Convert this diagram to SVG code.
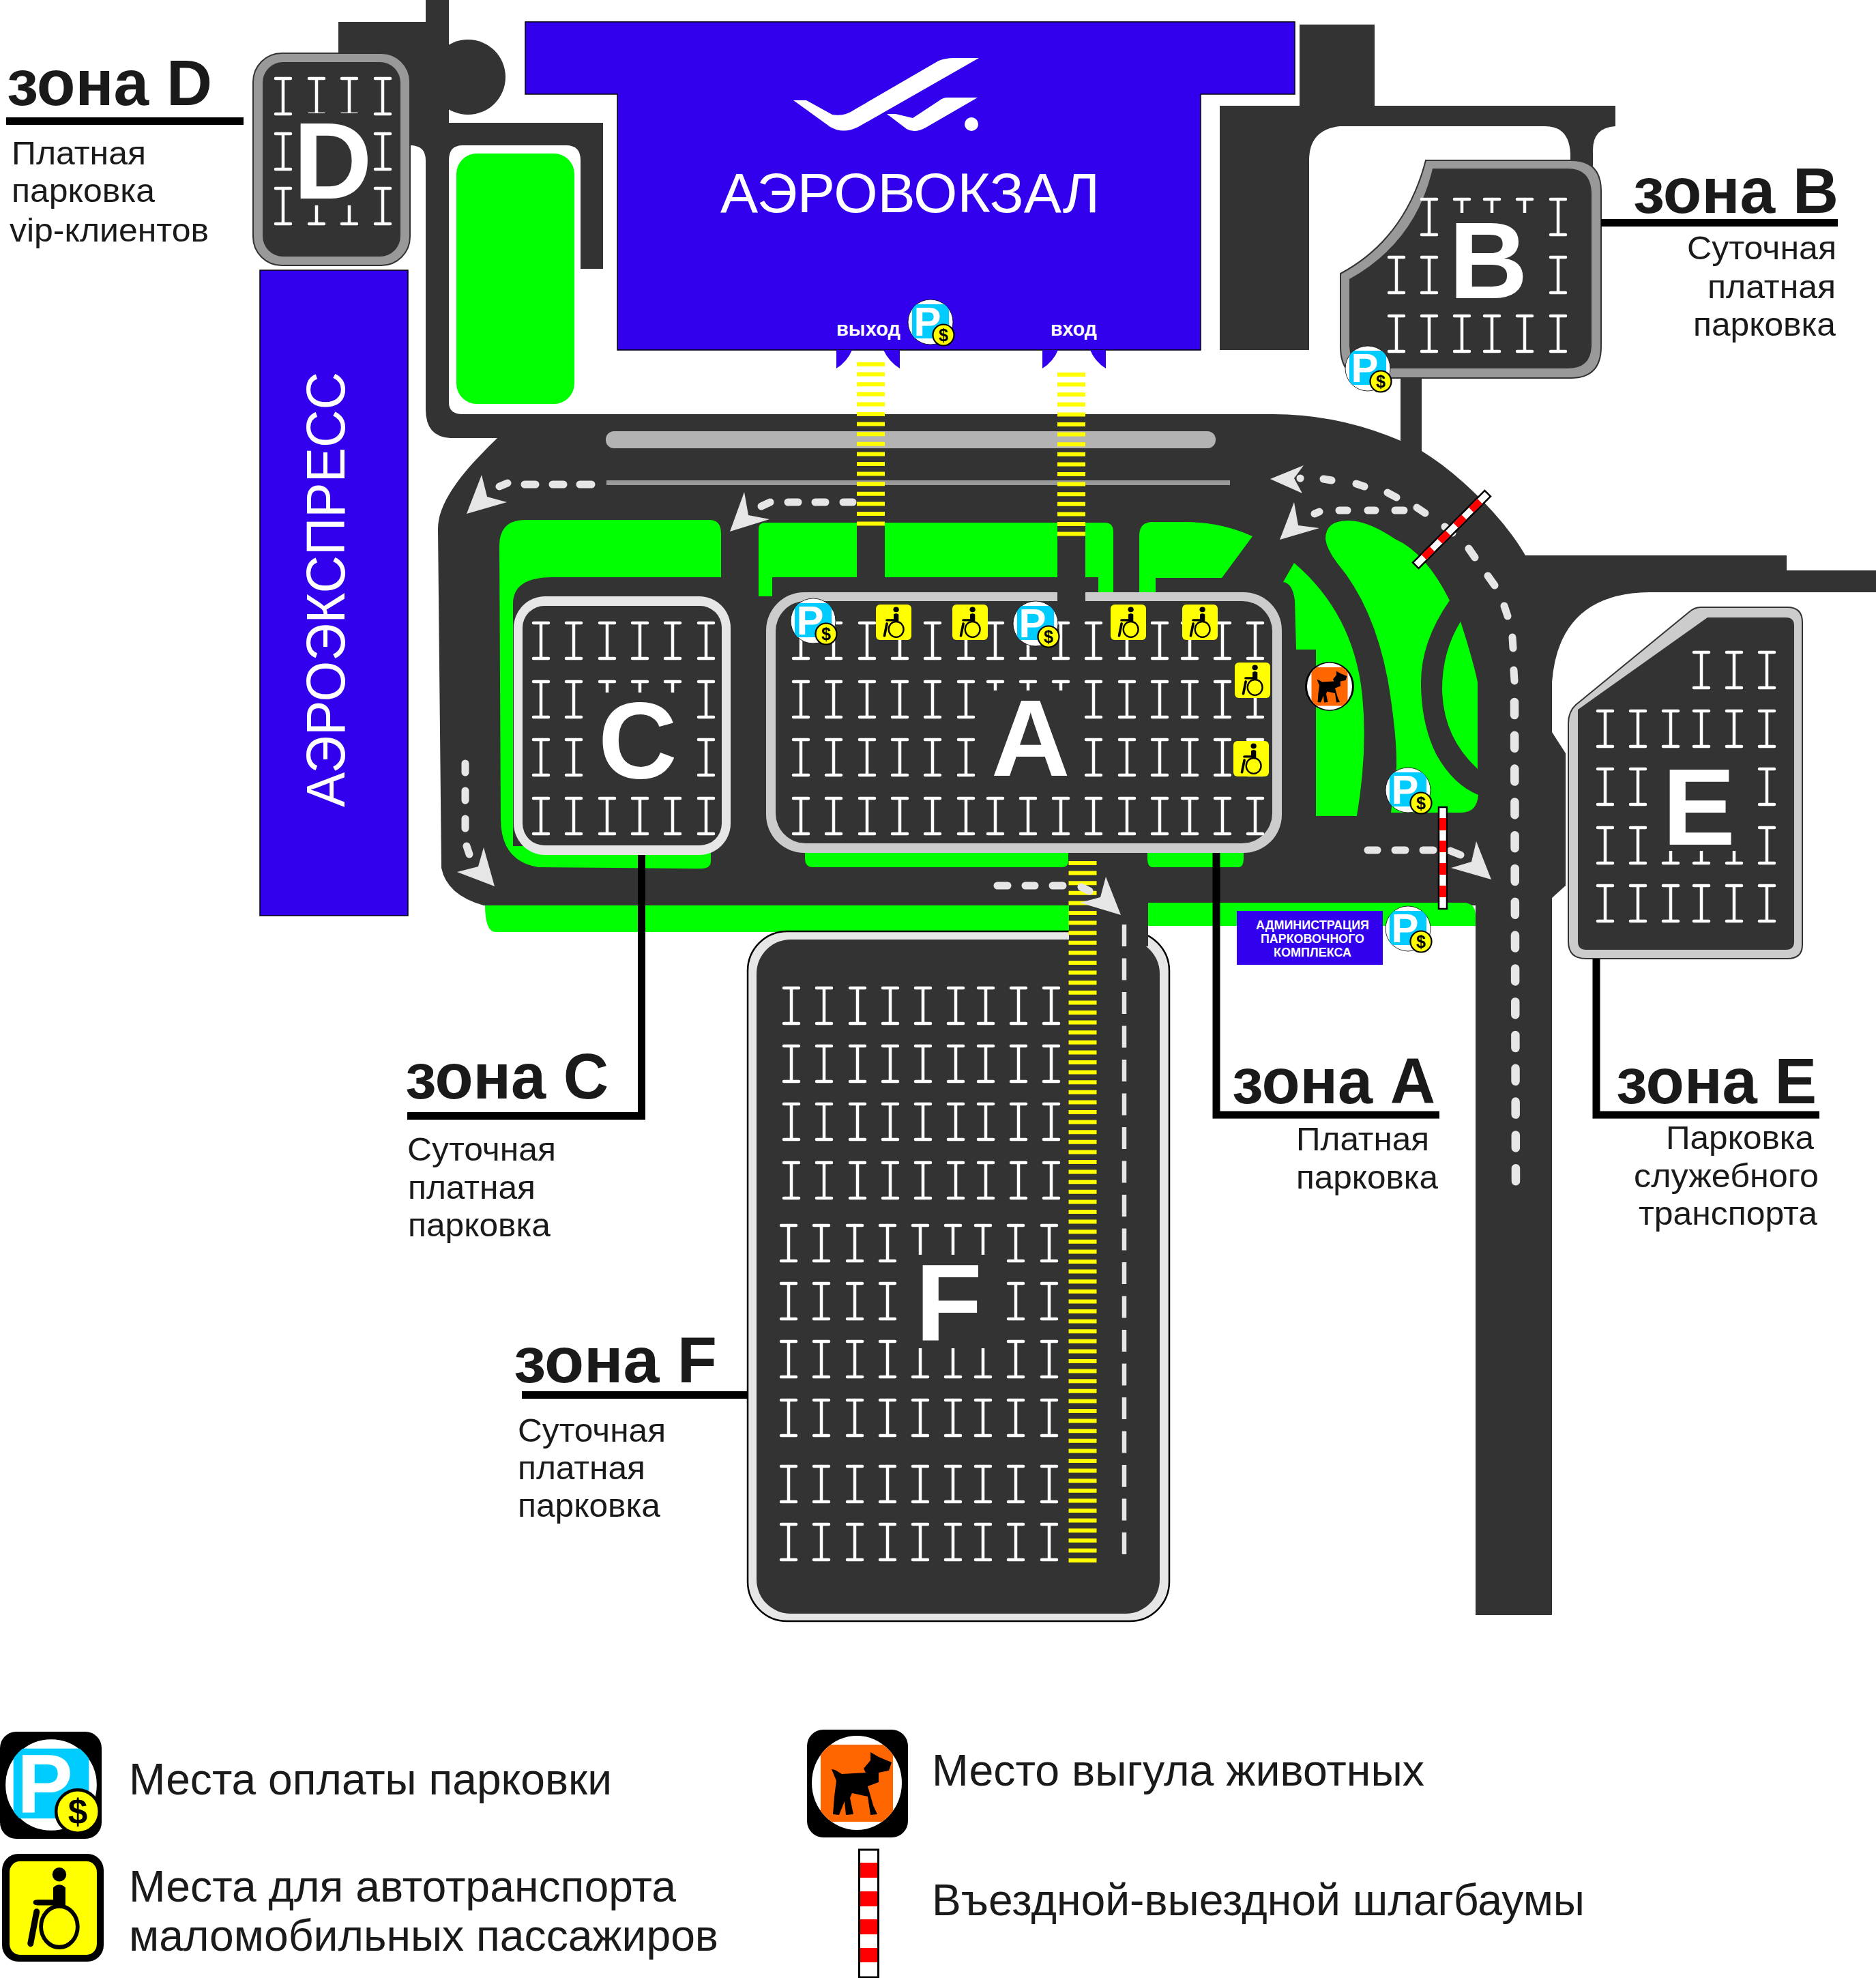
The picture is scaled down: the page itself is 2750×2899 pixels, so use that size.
<svg xmlns="http://www.w3.org/2000/svg" width="2750" height="2899" viewBox="0 0 2750 2899">
<style>
text{font-family:"Liberation Sans",Arial,sans-serif;fill:#1a1a1a}
.t{font-weight:bold;font-size:94px}
.s{font-size:48px}
.l{font-size:64px}
.w{fill:#fff}
.b{font-weight:bold}
.road{fill:#333}
.green{fill:#0f0}
.blue{fill:#30e;stroke:#000;stroke-width:1.5}
.dash{fill:none;stroke:#e6e6e6;stroke-width:11;stroke-linecap:round}
.arrow{fill:#e6e6e6}
.lead{fill:none;stroke:#000;stroke-width:11}
.zebra{stroke:#ff0;stroke-width:41;stroke-dasharray:6 8.6;fill:none}
.mark{fill:none;stroke:#fff;stroke-width:4.5;stroke-linecap:round}
</style>
<defs>
<path id="I" class="mark" d="M-11,2H11M0,2V54M-11,54H11"/>
<g id="rA"><use href="#I" x="1174"/><use href="#I" x="1222"/><use href="#I" x="1271"/><use href="#I" x="1319"/><use href="#I" x="1367"/><use href="#I" x="1416"/><use href="#I" x="1459"/><use href="#I" x="1507"/><use href="#I" x="1555"/><use href="#I" x="1603"/><use href="#I" x="1652"/><use href="#I" x="1700"/><use href="#I" x="1744"/><use href="#I" x="1792"/><use href="#I" x="1840"/></g>
<g id="rC"><use href="#I" x="793"/><use href="#I" x="841"/><use href="#I" x="890"/><use href="#I" x="938"/><use href="#I" x="986"/><use href="#I" x="1035"/></g>
<g id="rF1"><use href="#I" x="1160"/><use href="#I" x="1208"/><use href="#I" x="1257"/><use href="#I" x="1305"/><use href="#I" x="1353"/><use href="#I" x="1401"/><use href="#I" x="1445"/><use href="#I" x="1493"/><use href="#I" x="1541"/></g>
<g id="rF2"><use href="#I" x="1156"/><use href="#I" x="1204"/><use href="#I" x="1253"/><use href="#I" x="1301"/><use href="#I" x="1349"/><use href="#I" x="1397"/><use href="#I" x="1441"/><use href="#I" x="1489"/><use href="#I" x="1538"/></g>
<clipPath id="payClip"><circle r="33"/></clipPath>
<g id="pay">
<circle r="33" fill="#fff" stroke="#000" stroke-width=".8"/>
<rect x="-27" y="-26" width="54" height="50" fill="#0cf" clip-path="url(#payClip)"/>
<text x="-24.5" y="20" font-size="60" font-weight="bold" style="fill:#fff">P</text>
<circle cx="19" cy="19" r="15.5" fill="#ff0" stroke="#000" stroke-width="2.2"/>
<text x="19" y="28" font-size="25" font-weight="bold" text-anchor="middle" style="fill:#000">$</text>
</g>
<g id="wheel">
<rect x="-26" y="-26" width="52" height="52" rx="6" fill="#ff0"/>
<g transform="scale(.52) translate(-50,-50)">
<ellipse cx="57" cy="14" rx="8" ry="7.5" fill="#000"/>
<path d="M50,28Q57,22 64,28V47H32Q27,47 27,44Q27,41 32,41H50Z" fill="#000"/>
<ellipse cx="57" cy="70" rx="21" ry="22" fill="none" stroke="#000" stroke-width="4.5"/>
<path d="M31,54L24,88" fill="none" stroke="#000" stroke-width="7" stroke-linecap="round"/>
</g>
</g>
<clipPath id="dogClip"><ellipse rx="66" ry="69"/></clipPath>
<g id="dog">
<ellipse rx="66" ry="69" fill="#fff"/>
<rect x="-53" y="-56" width="106" height="113" fill="#f60" clip-path="url(#dogClip)"/>
<path d="M20,-45L32,-38L51,-30L47,-18L32,-15L32,-1L16,5L24,33L30,46L20,47L16,20L-7,15L-10,22L-5,46L-16,47L-18,27L-26,47L-35,46L-33,20L-30,-3L-37,-20L-32,-19L-22,-13L13,-15L10,-21L20,-33Z" fill="#000"/>
</g>
<g id="barrier">
<rect x="-6" y="-74.5" width="12" height="149" fill="#fff" stroke="#000" stroke-width="2.5"/>
<path d="M-5,-58.5h10v18h-10zM-5,-25.5h10v17h-10zM-5,7.5h10v17h-10zM-5,40.5h10v17h-10z" fill="#f00"/>
</g>
</defs>

<g id="roads">
<path class="road" d="M496,32H624V0H658V180H884V394H851V235Q851,213 830,213H678Q658,213 658,235V590Q658,607 678,607H1861Q1960,606 2053,646L2084,661C2140,695 2205,760 2236,814H2619V836H2750V868H2417Q2285,870 2275,1000V1073L2295,1104V1298L2275,1316V2367H2163V1327H709Q655,1312 647,1272L642,775C642,730 690,680 729,642H660Q624,640 624,600V235Q624,213 601,213H560V78H496Z"/>
<circle class="road" cx="686" cy="113" r="55"/>
<path class="road" d="M1905,36H2015V155H2368V185Q2335,187 2335,220V250H2302V225Q2300,185 2265,185H1964Q1919,190 1919,235V513H1788V155H1905Z"/>
<rect class="road" x="2053" y="540" width="31" height="125"/>
</g>

<g id="lawns">
<rect class="green" x="669" y="225" width="173" height="367" rx="30"/>
<path class="green" d="M732,800Q732,762 770,762H1040Q1057,762 1057,782V846H810Q752,846 752,885V1240H1042V1262Q1042,1273 1028,1273L789,1271Q734,1262 734,1200Z"/>
<path class="green" d="M1112,775Q1112,766 1122,766H1620Q1632,766 1632,780V868H1610V846H1132V874H1112Z"/>
<path class="green" d="M1670,785Q1670,765 1690,765H1737Q1790,765 1836,786L1791,847H1694V869H1670Z"/>
<path class="green" d="M1897,825L1881,853Q1895,855 1898,880L1900,952H1929V1196H1989Q2005,1100 1997,1020Q1985,900 1897,825Z"/>
<path class="green" d="M1976,763Q1943,763 1943,790Q1945,805 1960,825Q2015,890 2035,1000Q2048,1080 2047,1124L2039,1191H2142Q2165,1191 2167,1165Q2130,1150 2105,1105Q2083,1060 2083,1000Q2083,940 2125,880Q2090,810 2045,790Q2005,763 1976,763Z"/>
<path class="green" d="M2141,911Q2114,955 2114,1010Q2115,1080 2166,1127V1000Q2160,970 2141,911Z"/>
<path class="green" d="M1180,1245H1566V1262Q1566,1271 1556,1271H1192Q1180,1271 1180,1258Z"/>
<path class="green" d="M1682,1245H1823V1258Q1823,1271 1815,1271H1690Q1682,1271 1682,1258Z"/>
<path class="green" d="M711,1327H1567V1366H727Q711,1366 711,1327Z"/>
<path class="green" d="M1683,1323H2145Q2163,1323 2163,1342V1357H1683Z"/>
<rect class="road" x="1256" y="766" width="41" height="102"/>
<rect class="road" x="1550" y="766" width="41" height="102"/>
<rect x="888" y="632" width="894" height="25" rx="12" fill="#b3b3b3"/>
<rect x="889" y="704" width="914" height="7" fill="#999"/>
</g>

<g id="terminal">
<path class="blue" d="M770,32H1898V138H1760V513H905V138H770Z"/>
<path fill="#30e" d="M1226,513H1249Q1242,530 1226,540ZM1295,513H1319V540Q1303,530 1295,513ZM1528,513H1551Q1544,530 1528,540ZM1598,513H1621V540Q1605,530 1598,513Z"/>
<path fill="#fff" d="M1163,147H1182L1220,168Q1238,171 1252,161L1376,89Q1386,85 1399,85H1435L1258,186Q1236,197 1217,186Z"/>
<path fill="#fff" d="M1300,167H1313L1338,173L1376,148Q1382,143 1389,143H1433L1357,187Q1341,196 1329,189Z"/>
<circle cx="1424" cy="182" r="10" fill="#fff"/>
<text class="w" x="1056" y="311" font-size="82" textLength="556" lengthAdjust="spacingAndGlyphs" style="fill:#fff">АЭРОВОКЗАЛ</text>
<text x="1226" y="492" font-size="30" font-weight="bold" textLength="94" lengthAdjust="spacingAndGlyphs" style="fill:#fff">выход</text>
<text x="1540" y="492" font-size="30" font-weight="bold" textLength="68" lengthAdjust="spacingAndGlyphs" style="fill:#fff">вход</text>
<use href="#pay" x="1364" y="472"/>
</g>

<g id="aeroexpress">
<rect class="blue" x="381" y="396" width="217" height="946"/>
<text transform="translate(505,1183) rotate(-90)" font-size="80" textLength="638" lengthAdjust="spacingAndGlyphs" style="fill:#fff">АЭРОЭКСПРЕСС</text>
</g>

<g id="zone-d">
<rect x="371" y="78" width="230" height="311" rx="42" fill="#999" stroke="#333" stroke-width="2"/>
<rect x="385" y="91" width="202" height="285" rx="30" fill="#333"/>
<use href="#I" x="415" y="113"/><use href="#I" x="464" y="113"/><use href="#I" x="512" y="113"/><use href="#I" x="561" y="113"/>
<use href="#I" x="415" y="194"/><use href="#I" x="561" y="194"/>
<use href="#I" x="415" y="274"/><use href="#I" x="464" y="274"/><use href="#I" x="512" y="274"/><use href="#I" x="561" y="274"/>
<rect x="440" y="166" width="100" height="135" fill="#333"/>
<text x="430" y="291" font-size="160" font-weight="bold" style="fill:#fff">D</text>
</g>

<g id="zone-b">
<path d="M2090,235H2303Q2347,235 2347,280V508Q2347,554 2303,554H2006Q1965,554 1965,508V401Q2060,350 2090,235Z" fill="#999" stroke="#333" stroke-width="2"/>
<path d="M2100,247H2298Q2333,247 2333,285V505Q2333,540 2298,540H2010Q1978,540 1978,505V409Q2075,355 2100,247Z" fill="#333"/>
<use href="#I" x="2095" y="290"/><use href="#I" x="2143" y="290"/><use href="#I" x="2187" y="290"/><use href="#I" x="2235" y="290"/><use href="#I" x="2284" y="290"/>
<use href="#I" x="2047" y="375"/><use href="#I" x="2095" y="375"/><use href="#I" x="2284" y="375"/>
<use href="#I" x="2047" y="461"/><use href="#I" x="2095" y="461"/><use href="#I" x="2143" y="461"/><use href="#I" x="2187" y="461"/><use href="#I" x="2235" y="461"/><use href="#I" x="2284" y="461"/>
<rect x="2125" y="312" width="130" height="125" fill="#333"/>
<text x="2124" y="437" font-size="160" font-weight="bold" style="fill:#fff">B</text>
<use href="#pay" x="2005" y="540"/>
</g>

<g id="zone-c">
<rect x="753" y="874" width="318" height="379" rx="46" fill="#e6e6e6"/>
<rect x="766" y="888" width="292" height="351" rx="32" fill="#333"/>
<use href="#rC" y="911"/><use href="#rC" y="997"/><use href="#rC" y="1082"/><use href="#rC" y="1168"/>
<rect x="872" y="1015" width="132" height="130" fill="#333"/>
<text x="877" y="1140" font-size="160" font-weight="bold" style="fill:#fff">C</text>
</g>

<g id="zone-a">
<rect x="1123" y="868" width="756" height="382" rx="56" fill="#ccc"/>
<rect x="1137" y="881" width="728" height="355" rx="44" fill="#333"/>
<rect class="road" x="1550" y="866" width="41" height="18"/>
<use href="#rA" y="911"/><use href="#rA" y="997"/><use href="#rA" y="1082"/><use href="#rA" y="1168"/>
<rect x="1440" y="1012" width="136" height="135" fill="#333"/>
<text x="1453" y="1137" font-size="160" font-weight="bold" style="fill:#fff">A</text>
<use href="#pay" x="1192" y="910"/><use href="#pay" x="1518" y="914"/>
<use href="#wheel" x="1310" y="912"/><use href="#wheel" x="1422" y="912"/><use href="#wheel" x="1654" y="912"/><use href="#wheel" x="1759" y="912"/><use href="#wheel" x="1836" y="997"/><use href="#wheel" x="1834" y="1112"/>
</g>

<g id="zone-f">
<rect x="1096" y="1365" width="618" height="1011" rx="58" fill="#e6e6e6" stroke="#000" stroke-width="2.5"/>
<rect x="1109" y="1377" width="591" height="988" rx="50" fill="#333"/>
<rect class="road" x="1567" y="1327" width="116" height="60"/>
<use href="#rF1" y="1446"/><use href="#rF1" y="1531"/><use href="#rF1" y="1616"/><use href="#rF1" y="1702"/>
<use href="#rF2" y="1794"/><use href="#rF2" y="1879"/><use href="#rF2" y="1964"/><use href="#rF2" y="2050"/><use href="#rF2" y="2147"/><use href="#rF2" y="2232"/>
<rect x="1330" y="1839" width="128" height="137" fill="#333"/>
<text x="1342" y="1964" font-size="160" font-weight="bold" style="fill:#fff">F</text>
</g>

<g id="zone-e">
<path d="M2493,890H2620Q2642,890 2642,912V1385Q2642,1405 2620,1405H2325Q2299,1405 2299,1380V1060Q2299,1043 2310,1033L2476,897Q2484,890 2493,890Z" fill="#ccc" stroke="#333" stroke-width="2"/>
<path d="M2503,905H2618Q2630,905 2630,917V1380Q2630,1392 2618,1392H2325Q2313,1392 2313,1380V1040Z" fill="#333"/>
<use href="#I" x="2494" y="954"/><use href="#I" x="2542" y="954"/><use href="#I" x="2590" y="954"/>
<use href="#I" x="2353" y="1040"/><use href="#I" x="2401" y="1040"/><use href="#I" x="2449" y="1040"/><use href="#I" x="2494" y="1040"/><use href="#I" x="2542" y="1040"/><use href="#I" x="2590" y="1040"/>
<use href="#I" x="2353" y="1125"/><use href="#I" x="2401" y="1125"/><use href="#I" x="2590" y="1125"/>
<use href="#I" x="2353" y="1211"/><use href="#I" x="2401" y="1211"/><use href="#I" x="2449" y="1211"/><use href="#I" x="2494" y="1211"/><use href="#I" x="2542" y="1211"/><use href="#I" x="2590" y="1211"/>
<use href="#I" x="2353" y="1296"/><use href="#I" x="2401" y="1296"/><use href="#I" x="2449" y="1296"/><use href="#I" x="2494" y="1296"/><use href="#I" x="2542" y="1296"/><use href="#I" x="2590" y="1296"/>
<rect x="2430" y="1110" width="130" height="137" fill="#333"/>
<text x="2437" y="1238" font-size="160" font-weight="bold" style="fill:#fff">E</text>
</g>

<g id="admin">
<rect x="1813" y="1335" width="214" height="79" fill="#30e"/>
<g font-size="19" font-weight="bold" text-anchor="middle">
<text x="1924" y="1362" textLength="166" lengthAdjust="spacingAndGlyphs" style="fill:#fff">АДМИНИСТРАЦИЯ</text>
<text x="1924" y="1382" textLength="152" lengthAdjust="spacingAndGlyphs" style="fill:#fff">ПАРКОВОЧНОГО</text>
<text x="1924" y="1402" textLength="114" lengthAdjust="spacingAndGlyphs" style="fill:#fff">КОМПЛЕКСА</text>
</g>
<use href="#pay" x="2064" y="1361"/>
</g>
<use id="pay-lawn" href="#pay" x="2064" y="1158"/>
<g id="dog-walk">
<circle cx="1949" cy="1006" r="36" fill="#000"/>
<use href="#dog" transform="translate(1949,1006) scale(.5)"/>
</g>

<g id="connectors">
<path class="zebra" d="M1276.5,531V775"/>
<path class="zebra" d="M1570.5,546V787"/>
<path class="zebra" d="M1587,1262V2290"/>
<path d="M1648,1355V2290" fill="none" stroke="#e6e6e6" stroke-width="6.5" stroke-dasharray="32 17.5"/>
<path class="dash" d="M850,710H867M810,710H826M769,710H785M732,713L744,708"/>
<polygon class="arrow" points="684,753 706,696 714,728 743,736"/>
<path class="dash" d="M1236,736H1250M1195,736H1210M1155,736H1170M1116,742L1129,736"/>
<polygon class="arrow" points="1070,779 1091,721 1097,755 1128,761"/>
<path class="dash" d="M682,1119V1132M682,1159V1173M682,1200V1214M684,1240L688,1252"/>
<polygon class="arrow" points="725,1299 709,1242 701,1270 670,1278"/>
<path class="dash" d="M1906,701h.1M1940,702L1952,704M1988,709L2000,713M2034,722L2047,729M2077,744L2089,752M2118,772L2129,781M2153,804L2162,817M2181,844L2191,858M2205,888L2210,903M2217,934L2218,950M2219,982L2220,998"/>
<polygon class="arrow" points="1862,702 1911,682 1897,701 1909,723"/>
<path class="dash" d="M2220,1029L2222,1740" style="stroke-width:12.5;stroke-linecap:round;stroke-dasharray:19 29.8"/>
<path class="dash" d="M1927,753L1934,750M1963,748H1975M2005,748H2016M2045,748H2058"/>
<polygon class="arrow" points="1876,791 1897,736 1903,770 1934,774"/>
<path class="dash" d="M2005,1246H2019M2045,1246H2060M2086,1246H2101M2126,1247L2141,1253"/>
<polygon class="arrow" points="2186,1289 2164,1233 2157,1263 2127,1272"/>
<path class="dash" d="M1462,1298H1477M1503,1298H1517M1543,1298H1558M1585,1300L1597,1306"/>
<polygon class="arrow" points="1643,1341 1621,1285 1613,1315 1583,1323"/>
<path class="lead" d="M9,177.5H357"/>
<path class="lead" d="M2347,326.5H2694"/>
<path class="lead" d="M940.5,1253V1635.5H597"/>
<path class="lead" d="M1783,1250V1634H2110"/>
<path class="lead" d="M2340,1405V1634H2667"/>
<path class="lead" d="M765,2044.5H1095"/>
</g>

<use id="barrier-1" href="#barrier" transform="translate(2128,776) rotate(45)"/>
<use id="barrier-2" href="#barrier" x="2115" y="1257.5"/>

<g id="label-d">
<text class="t" x="10" y="154" textLength="301" lengthAdjust="spacingAndGlyphs">зона D</text>
<text class="s" x="17" y="241" textLength="197" lengthAdjust="spacingAndGlyphs">Платная</text>
<text class="s" x="17" y="296" textLength="210" lengthAdjust="spacingAndGlyphs">парковка</text>
<text class="s" x="14" y="354" textLength="292" lengthAdjust="spacingAndGlyphs">vip-клиентов</text>
</g>
<g id="label-b">
<text class="t" x="2394" y="312" textLength="301" lengthAdjust="spacingAndGlyphs">зона B</text>
<text class="s" x="2473" y="380" textLength="219" lengthAdjust="spacingAndGlyphs">Суточная</text>
<text class="s" x="2503" y="437" textLength="188" lengthAdjust="spacingAndGlyphs">платная</text>
<text class="s" x="2482" y="492" textLength="209" lengthAdjust="spacingAndGlyphs">парковка</text>
</g>
<g id="label-c">
<text class="t" x="594" y="1610" textLength="298" lengthAdjust="spacingAndGlyphs">зона C</text>
<text class="s" x="597" y="1701" textLength="218" lengthAdjust="spacingAndGlyphs">Суточная</text>
<text class="s" x="598" y="1757" textLength="187" lengthAdjust="spacingAndGlyphs">платная</text>
<text class="s" x="598" y="1812" textLength="209" lengthAdjust="spacingAndGlyphs">парковка</text>
</g>
<g id="label-f">
<text class="t" x="753" y="2026" textLength="298" lengthAdjust="spacingAndGlyphs">зона F</text>
<text class="s" x="759" y="2113" textLength="217" lengthAdjust="spacingAndGlyphs">Суточная</text>
<text class="s" x="759" y="2168" textLength="187" lengthAdjust="spacingAndGlyphs">платная</text>
<text class="s" x="759" y="2223" textLength="209" lengthAdjust="spacingAndGlyphs">парковка</text>
</g>
<g id="label-a">
<text class="t" x="1806" y="1617" textLength="298" lengthAdjust="spacingAndGlyphs">зона A</text>
<text class="s" x="1900" y="1686" textLength="195" lengthAdjust="spacingAndGlyphs">Платная</text>
<text class="s" x="1900" y="1742" textLength="208" lengthAdjust="spacingAndGlyphs">парковка</text>
</g>
<g id="label-e">
<text class="t" x="2369" y="1617" textLength="294" lengthAdjust="spacingAndGlyphs">зона E</text>
<text class="s" x="2442" y="1684" textLength="217" lengthAdjust="spacingAndGlyphs">Парковка</text>
<text class="s" x="2395" y="1740" textLength="271" lengthAdjust="spacingAndGlyphs">служебного</text>
<text class="s" x="2402" y="1795" textLength="262" lengthAdjust="spacingAndGlyphs">транспорта</text>
</g>

<g id="legend">
<rect x="0" y="2538" width="149" height="157" rx="24" fill="#000"/>
<use href="#pay" transform="translate(75,2616) scale(2.05)"/>
<text class="l" x="189" y="2630" textLength="708" lengthAdjust="spacingAndGlyphs">Места оплаты парковки</text>
<rect x="3" y="2717" width="149" height="158" rx="24" fill="#000"/>
<use href="#wheel" transform="translate(78,2796.5) scale(2.46,2.63)"/>
<text class="l" x="189" y="2787" textLength="802" lengthAdjust="spacingAndGlyphs">Места для автотранспорта</text>
<text class="l" x="189" y="2859" textLength="864" lengthAdjust="spacingAndGlyphs">маломобильных пассажиров</text>
<rect x="1183" y="2535" width="148" height="158" rx="24" fill="#000"/>
<use href="#dog" transform="translate(1256,2613)"/>
<text class="l" x="1366" y="2617" textLength="722" lengthAdjust="spacingAndGlyphs">Место выгула животных</text>
<rect x="1259.5" y="2711" width="28" height="187" fill="#fff" stroke="#000" stroke-width="3"/>
<path d="M1261,2730h25v22h-25zM1261,2772h25v22h-25zM1261,2813h25v22h-25zM1261,2855h25v21h-25z" fill="#f00"/>
<text class="l" x="1366" y="2807" textLength="957" lengthAdjust="spacingAndGlyphs">Въездной-выездной шлагбаумы</text>
</g>
</svg>
